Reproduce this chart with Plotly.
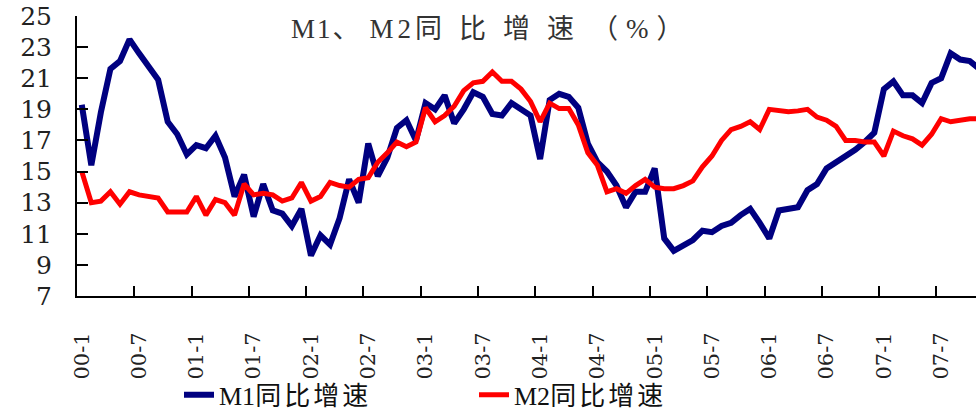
import plotly.graph_objects as go

# Monthly labels 2000-01 .. 2007-11 (categories)
years = ["00", "01", "02", "03", "04", "05", "06", "07"]
months = [f"{y}-{m}" for y in years for m in range(1, 13)][:95]

tick_labels = ["00-1", "00-7", "01-1", "01-7", "02-1", "02-7", "03-1", "03-7",
               "04-1", "04-7", "05-1", "05-7", "06-1", "06-7", "07-1", "07-7"]

m1_growth = [
    19.3, 15.4, 18.8, 21.6, 22.1, 23.5, 22.6, 21.8, 20.9, 18.2, 17.4, 16.1,
    16.7, 16.5, 17.3, 15.9, 13.4, 14.8, 12.1, 14.2, 12.5, 12.3, 11.5, 12.6,
    9.6, 10.9, 10.3, 12.0, 14.5, 13.0, 16.8, 14.7, 15.9, 17.8, 18.3, 17.0,
    19.4, 19.0, 19.9, 18.1, 19.0, 20.1, 19.8, 18.7, 18.6, 19.4, 19.0, 18.6,
    15.8, 19.6, 20.0, 19.8, 19.1, 16.8, 15.6, 15.0, 14.1, 12.7, 13.7, 13.7,
    15.2, 10.7, 9.9, 10.2, 10.6, 11.2, 11.1, 11.5, 11.7, 12.2, 12.6, 11.7,
    10.7, 12.5, 12.6, 12.7, 13.8, 14.2, 15.2, 15.6, 15.9, 16.4, 16.9, 17.5,
    20.3, 20.8, 19.9, 19.9, 19.4, 20.7, 21.0, 22.6, 22.2, 22.1, 21.6,
]

m2_growth = [
    15.0, 13.0, 13.1, 13.7, 12.9, 13.7, 13.5, 13.4, 13.3, 12.4, 12.4, 12.4,
    13.4, 12.2, 13.2, 13.0, 12.2, 14.2, 13.5, 13.6, 13.5, 13.1, 13.3, 14.3,
    13.1, 13.4, 14.3, 14.1, 14.0, 14.5, 14.6, 15.6, 16.2, 16.9, 16.6, 16.9,
    19.1, 18.2, 18.6, 19.2, 20.2, 20.7, 20.8, 21.4, 20.8, 20.8, 20.3, 19.5,
    18.2, 19.4, 19.05, 19.05, 18.0, 16.2, 15.4, 13.7, 13.9, 13.6, 14.1, 14.5,
    14.0, 13.9, 13.9, 14.1, 14.4, 15.3, 16.0, 17.0, 17.7, 17.9, 18.2, 17.7,
    19.0, 18.9, 18.85, 18.9, 19.0, 18.5, 18.3, 17.9, 17.0, 17.0, 16.9, 16.9,
    16.0, 17.6, 17.3, 17.1, 16.7, 17.4, 18.4, 18.2, 18.3, 18.4, 18.4,
]

x_pos = list(range(len(months)))
tick_pos = [months.index(t) for t in tick_labels]
boundary_pos = [p - 0.5 for p in tick_pos]
x_range = [-0.5, 93.65]

SERIF = "DejaVu Serif, Noto Sans CJK SC"
MIXED = "Liberation Serif, Noto Sans CJK SC"

fig = go.Figure()
fig.add_trace(go.Scatter(
    x=x_pos, y=m1_growth, mode="lines",
    name="M1<span style='letter-spacing:3px'>同比增速</span>",
    line=dict(color="#000080", width=6),
    xaxis="x", yaxis="y",
))
fig.add_trace(go.Scatter(
    x=x_pos, y=m2_growth, mode="lines",
    name="M2<span style='letter-spacing:3px'>同比增速</span>",
    line=dict(color="#FF0000", width=5),
    xaxis="x2", yaxis="y",
))

title_text = ("<span style='letter-spacing:2px'>M1</span>"
              "<span style='letter-spacing:10px'>、</span>"
              "<span style='letter-spacing:4px'>M2</span>"
              "<span style='letter-spacing:17px'>同比增速</span>"
              "<span style='letter-spacing:8px'>（%）</span>")

# body margin is removed below, so figure pixels == window pixels;
# plot area spans x 77..976 and y 16..302
PLOT_H = 286
fig.update_layout(
    width=976, height=419,
    margin=dict(l=77, r=0, t=16, b=117),
    plot_bgcolor="white", paper_bgcolor="white",
    showlegend=True,
    legend=dict(
        orientation="h", x=(179 - 77) / 899, xanchor="left",
        y=(302 - 403) / PLOT_H, yanchor="middle",
        font=dict(family=MIXED, size=26, color="#111111"),
        entrywidth=250, entrywidthmode="pixels",
        bgcolor="rgba(0,0,0,0)",
    ),
    annotations=[dict(
        text=title_text,
        xref="paper", yref="paper", x=(289 - 77) / 899, y=(302 - 29) / PLOT_H,
        xanchor="left", yanchor="middle", showarrow=False,
        font=dict(family=MIXED, size=27, color="#333333"),
    )],
    xaxis=dict(
        range=x_range,
        tickmode="array", tickvals=tick_pos, ticktext=tick_labels,
        tickangle=-90, ticks="", ticklabelstandoff=26,
        tickfont=dict(family=SERIF, size=21, color="#222222"),
        showline=True, linecolor="black", linewidth=2,
        showgrid=False, zeroline=False, automargin=False,
    ),
    xaxis2=dict(
        overlaying="x", anchor="y", side="bottom",
        range=x_range,
        tickmode="array", tickvals=boundary_pos,
        ticks="inside", ticklen=10, tickwidth=2, tickcolor="black",
        showticklabels=False, showline=False,
        showgrid=False, zeroline=False, automargin=False,
    ),
    yaxis=dict(
        range=[7, 25], dtick=2, tick0=7,
        ticks="inside", ticklen=11, tickwidth=2, tickcolor="black",
        ticklabelstandoff=18, ticklabeloverflow="allow",
        tickfont=dict(family=SERIF, size=25, color="#222222"),
        showline=True, linecolor="black", linewidth=2,
        showgrid=False, zeroline=False, automargin=False,
    ),
)

fig.write_html(
    "out.html",
    config={"displayModeBar": False},
    post_script="document.body.style.margin='0px';document.documentElement.style.margin='0px';",
)
